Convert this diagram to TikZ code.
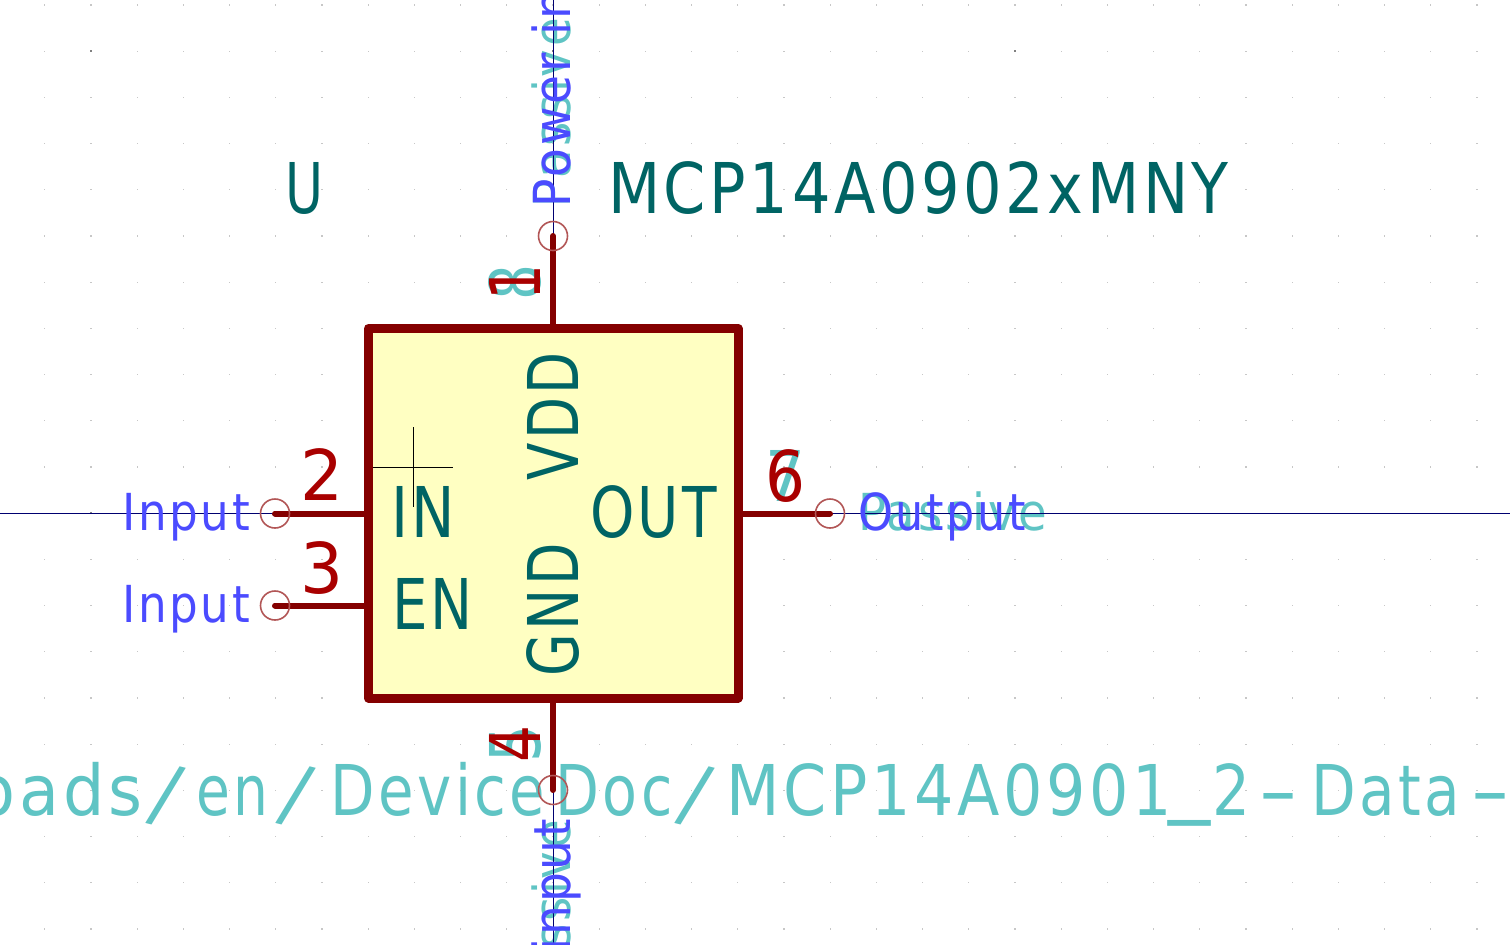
\documentclass[tikz,border=0pt]{standalone}
\usepackage{fontspec}
\setmainfont{DejaVu Sans}[LetterSpace=6]
\definecolor{pinred}{HTML}{840000}
\definecolor{numred}{HTML}{A90000}
\definecolor{bodyfill}{HTML}{FFFFC2}
\definecolor{teal}{HTML}{006464}
\definecolor{hid}{HTML}{5FC4C4}
\definecolor{typeblue}{HTML}{4B4BFF}
\definecolor{wirenavy}{HTML}{000070}
\definecolor{ringred}{HTML}{B25656}
\newcommand\fitw[2]{\resizebox{#1pt}{\height}{#2}}
% pieces of the long string, set at fixed offsets from its start
\newcommand\seg[3]{\rlap{\hspace{#1pt}\resizebox{\dimexpr#2pt-#1pt\relax}{\height}{#3}}}
\newcommand\slashseg[1]{\rlap{\hspace{#1pt}\raisebox{-5pt}{\rotatebox[origin=c]{-14}{\scalebox{1.1}{/}}}}}
\tikzset{
  txt/.style={inner sep=0pt,outer sep=0pt,anchor=base west},
  big/.style={txt,font=\fontsize{70}{70}\selectfont},
  small/.style={txt,font=\fontsize{51}{51}\selectfont},
  up/.style={rotate=90},
  wire/.style={draw=wirenavy,line width=1pt},
  pinline/.style={draw=pinred,line width=6pt,line cap=round},
  ring/.style={circle,draw=ringred,line width=1.6pt,minimum size=29pt,inner sep=0pt},
}
\begin{document}
\begin{tikzpicture}[x=1pt,y=-1pt]
\useasboundingbox (0,0) rectangle (1510,945);
\clip (0,0) rectangle (1510,945);
\fill[white] (0,0) rectangle (1510,945);
% grid
\foreach \i in {-11,...,21}{\foreach \j in {-5,...,15}{
  \pgfmathsetmacro{\gx}{553+\i*46.2}\pgfmathsetmacro{\gy}{236+\j*46.2}
  \fill[black!22] (\gx-.6,\gy-.6) rectangle (\gx+.6,\gy+.6);
}}
\foreach \gx in {91,553,1015}{\foreach \gy in {51,513}{
  \fill[black!50] (\gx-.8,\gy-.8) rectangle (\gx+.8,\gy+.8);
}}
% anchors
\coordinate (topfree) at (553,0);
\coordinate (botfree) at (553,945);
\coordinate (leftfree) at (0,513.5);
\coordinate (rightfree) at (1510,513.5);
\coordinate (p1) at (553,236);
\coordinate (p2) at (275,513.5);
\coordinate (p3) at (275,605.5);
\coordinate (p4) at (553,790);
\coordinate (p6) at (830,513.5);
% body
\node[draw=pinred,fill=bodyfill,line width=9pt,line join=round,minimum width=369.5pt,minimum height=369.5pt,inner sep=0pt,outer sep=0pt] (body) at (553.25,513.25) {};
\draw[black,line width=1pt] (373,467) -- (453,467) (413,427) -- (413,507);
% hidden texts
\node[big,text=hid,up] (num8) at (540,300) {\fitw{36}{8}};
\node[big,text=hid,up] (num5) at (540,762) {\fitw{37}{5}};
\node[big,text=hid] (num7) at (765,501) {\fitw{40}{7}};
\node[small,text=hid,up] (pas8) at (570,207) {\fitw{189}{Passive}};
\node[small,text=hid,up] (pas5) at (570,1009) {\fitw{189}{Passive}};
\node[small,text=hid] (pas7) at (858,530) {\fitw{189}{Passive}};
\node[txt,text=hid,font=\fontsize{70}{70}\selectfont] (url) at (0,815) {%
\seg{-25}{142}{oads}\slashseg{145}\seg{196}{268}{en}\slashseg{275}%
\seg{330}{545}{Device}\seg{555}{672}{Doc}\slashseg{674}%
\seg{726}{1172}{MCP14A0901}\rlap{\hspace{1168pt}\raisebox{9pt}{\scalebox{1.2}[1.2]{\_}}}\seg{1212}{1250}{2}%
\seg{1258}{1298}{-}\seg{1311}{1460}{Data}\seg{1470}{1510}{-}};
% wires
\draw[wire] (topfree) -- (p1);
\draw[wire] (p4) -- (botfree);
\draw[wire] (leftfree) -- (p2);
\draw[wire] (p6) -- (rightfree);
% pins
\draw[pinline] (p1) -- (p1 |- body.north);
\draw[pinline] (p4) -- (p4 |- body.south);
\draw[pinline] (p2) -- (p2 -| body.west);
\draw[pinline] (p3) -- (p3 -| body.west);
\draw[pinline] (p6) -- (p6 -| body.east);
\node[ring] (r1) at (p1) {};
\node[ring] (r2) at (p2) {};
\node[ring] (r3) at (p3) {};
\node[ring] (r4) at (p4) {};
\node[ring] (r6) at (p6) {};
% field texts
\node[big,text=teal] (ref) at (285,213) {\fitw{38}{U}};
\node[big,text=teal] (val) at (608,213) {\fitw{621}{MCP14A0902xMNY}};
% pin names
\node[big,text=teal] (nIN) at (391,537) {\fitw{64}{IN}};
\node[big,text=teal] (nEN) at (392,629) {\fitw{81}{EN}};
\node[big,text=teal] (nOUT) at (590,537) {\fitw{127}{OUT}};
\node[big,text=teal,up] (nVDD) at (578,480) {\fitw{128}{VDD}};
\node[big,text=teal,up] (nGND) at (578,676) {\fitw{133}{GND}};
% pin numbers
\node[big,text=numred] (num2) at (300,500) {\fitw{43}{2}};
\node[big,text=numred] (num3) at (300,593) {\fitw{43}{3}};
\node[big,text=numred] (num6) at (765,501) {\fitw{40}{6}};
\node[big,text=numred,up] (num1) at (540,300) {\fitw{36}{1}};
\node[big,text=numred,up] (num4) at (540,762) {\fitw{37}{4}};
% electrical types
\node[small,text=typeblue] (t2) at (122,530) {\fitw{128}{Input}};
\node[small,text=typeblue] (t3) at (122,622) {\fitw{128}{Input}};
\node[small,text=typeblue] (t6) at (858,530) {\fitw{168}{Output}};
\node[small,text=typeblue,up] (t1) at (570,207) {\fitw{304}{Power input}};
\node[small,text=typeblue,up] (t4) at (570,1123) {\fitw{304}{Power input}};
\end{tikzpicture}
\end{document}
